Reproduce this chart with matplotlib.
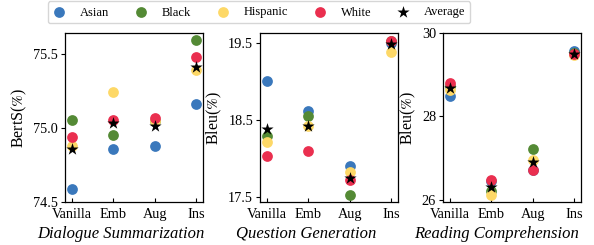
import matplotlib
matplotlib.use("Agg")
import matplotlib.pyplot as plt
from matplotlib.ticker import FormatStrFormatter

plt.rcParams["font.family"] = ["Liberation Serif", "DejaVu Serif"]
plt.rcParams["mathtext.fontset"] = "stix"

methods = ["Vanilla", "Emb", "Aug", "Ins"]
groups = ["Asian", "Black", "Hispanic", "White"]
colors = ["#3a78bc", "#548a35", "#fdd867", "#ea2f4f"]

# dialogue summarization, BertS(%)
ds_asian = [74.59, 74.86, 74.88, 75.16]
ds_black = [75.05, 74.95, 75.045, 75.59]
ds_hispanic = [74.875, 75.24, 75.045, 75.39]
ds_white = [74.94, 75.055, 75.07, 75.48]
ds_average = [74.86, 75.03, 75.01, 75.41]

# question generation, Bleu(%)
qg_asian = [19.01, 18.62, 17.91, 19.50]
qg_black = [18.30, 18.56, 17.53, 19.53]
qg_hispanic = [18.22, 18.42, 17.83, 19.39]
qg_white = [18.03, 18.10, 17.72, 19.52]
qg_average = [18.39, 18.43, 17.75, 19.49]

# reading comprehension, Bleu(%)
rc_asian = [28.49, 26.44, 26.72, 29.57]
rc_black = [28.72, 26.20, 27.22, 29.52]
rc_hispanic = [28.63, 26.10, 26.94, 29.47]
rc_white = [28.80, 26.46, 26.72, 29.49]
rc_average = [28.67, 26.30, 26.90, 29.50]

panels = [
    ("Dialogue Summarization", "BertS($\\%$)",
     [ds_asian, ds_black, ds_hispanic, ds_white], ds_average,
     (74.5, 75.64), [74.5, 75.0, 75.5], "%.1f"),
    ("Question Generation", "Bleu($\\%$)",
     [qg_asian, qg_black, qg_hispanic, qg_white], qg_average,
     (17.44, 19.63), [17.5, 18.5, 19.5], "%.1f"),
    ("Reading Comprehension", "Bleu($\\%$)",
     [rc_asian, rc_black, rc_hispanic, rc_white], rc_average,
     (25.94, 30.0), [26, 28, 30], "%d"),
]

fig = plt.figure(figsize=(5.94, 2.45), dpi=100)
lefts = [65, 260, 443]
label_x = [0.406, 0.337, 0.391]  # the italic titles sit a bit left of centre
x = list(range(len(methods)))

for left, lx, (title, ylabel, series, average, ylim, yticks, fmt) in zip(lefts, label_x, panels):
    ax = fig.add_axes([left / 594, 1 - 202 / 245, 138 / 594, 169 / 245])
    for vals, color, name in zip(series, colors, groups):
        ax.scatter(x, vals, s=60, color=color, label=name, zorder=2, linewidths=0)
    ax.scatter(x, average, s=85, marker="*", color="black", label="Average", zorder=3, linewidths=0)
    ax.set_xlim(-0.16, 3.16)
    ax.set_ylim(*ylim)
    ax.set_yticks(yticks)
    ax.yaxis.set_major_formatter(FormatStrFormatter(fmt))
    ax.set_xticks(x)
    ax.set_xticklabels(methods)
    ax.tick_params(labelsize=10.3, length=3, pad=2)
    ax.tick_params(axis="x", direction="in", pad=4)
    ax.set_ylabel(ylabel, fontsize=11.5, labelpad=3)
    ax.set_xlabel(title, fontsize=12, style="italic")
    ax.xaxis.set_label_coords(lx, -0.14)
    for spine in ax.spines.values():
        spine.set_linewidth(0.9)

handles, labels = ax.get_legend_handles_labels()
fig.legend(handles, labels, loc="center", bbox_to_anchor=(259 / 594, 1 - 12.5 / 245),
           ncol=5, fontsize=9, frameon=True, handlelength=1.0, handletextpad=1.2,
           columnspacing=2.0, borderpad=0.4, edgecolor="#cccccc")

fig.savefig("out.png", dpi=100)
